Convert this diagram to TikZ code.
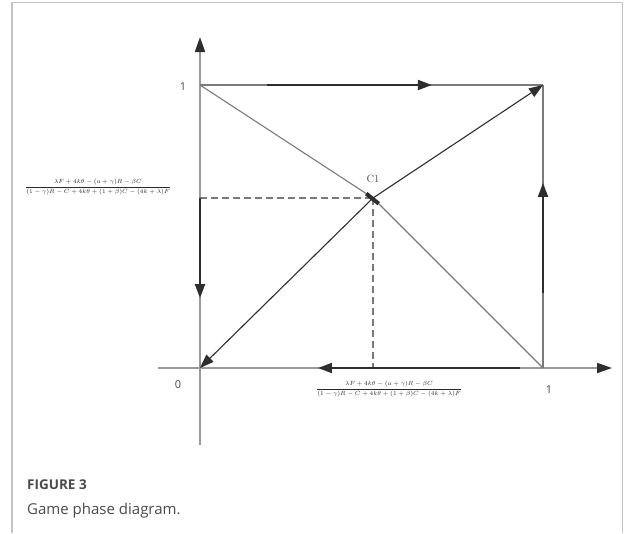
\documentclass[tikz,border=0pt]{standalone}
\usepackage{fontspec}
\newfontfamily\capfont{Open Sans}
\usetikzlibrary{arrows.meta,calc}
\definecolor{axisgray}{HTML}{9A9A9A}
\definecolor{linegray}{HTML}{7A7A7A}
\definecolor{darkline}{HTML}{2E2E2E}
\definecolor{framegray}{HTML}{C4C4C4}
\definecolor{txtgray}{HTML}{4A4A4A}
\definecolor{fracgray}{HTML}{2A2A2A}
\tikzset{
  axis/.style={draw=axisgray, line width=1.8pt, -{Triangle[length=15pt,width=10pt,color=darkline]}},
  edge/.style={draw=linegray, line width=1.4pt},
  diag/.style={draw=linegray, line width=1.1pt},
  flow/.style={draw=darkline, line width=2pt, -{Triangle[length=14pt,width=10pt]}},
  diagflow/.style={draw=darkline, line width=1.1pt, -{Triangle[length=14pt,width=10pt]}},
  guide/.style={draw=linegray, line width=1.2pt, dash pattern=on 7pt off 4pt},
  numlab/.style={font=\capfont\fontsize{11}{13}\selectfont, text=txtgray, inner sep=0pt},
  fraclab/.style={font=\fontsize{5.9}{7}\selectfont, text=fracgray, inner sep=0pt},
  frame/.style={draw=framegray, line width=1.5pt}
}
\begin{document}
\begin{tikzpicture}[x=1pt,y=-1pt]
\useasboundingbox (0,0) rectangle (624,533);
% frame
\draw[frame] (12,533) -- (12,2.5) -- (622.5,2.5) -- (622.5,533);
% key points
\coordinate (O) at (200,368);
\coordinate (A) at (543,368);
\coordinate (B) at (200,85);
\coordinate (D) at (543,85);
\coordinate (C) at (373,198);
\coordinate (xs) at (158,368);
\coordinate (xe) at (612,368);
\coordinate (ys) at (200,445);
\coordinate (ye) at (200,37);
\coordinate (Cx) at (373,368);
% axes
\draw[axis] (xs) -- (xe);
\draw[axis] (ys) -- (ye);
% square edges
\draw[edge] (B) -- (D);
\draw[edge] (D) -- (A);
% diagonals
\draw[diag] (B) -- (C) -- (A);
\draw[diagflow] (C) -- (D);
\draw[diagflow] (C) -- (O);
% dashed guides
\draw[guide] (B |- C) -- (C);
\draw[guide] (C) -- (Cx);
% flow arrows on edges
\draw[flow] ($(B)!0.195!(D)$) -- ($(B)!0.676!(D)$);
\draw[flow] ($(A)!0.265!(D)$) -- ($(A)!0.654!(D)$);
\draw[flow] ($(A)!0.067!(O)$) -- ($(A)!0.656!(O)$);
\draw[flow] ($(B)!0.40!(O)$) -- ($(B)!0.753!(O)$);
% C1 marker
\draw[draw=darkline, line width=4pt] ($(C)!8pt!(B)$) -- ($(C)!8pt!(A)$);
% labels
\node[font=\fontsize{10.5}{12}\selectfont, text=txtgray] (c1) at (373,179) {C1};
\node[numlab] (one1) at (183,87) {1};
\node[numlab] (zero) at (178,385) {0};
\node[numlab] (one2) at (549,390) {1};
\node[fraclab] (fy) at (98,187) {$\displaystyle\frac{\lambda F+4k\theta-(a+\gamma)R-\beta C}{(1-\gamma)R-C+4k\theta+(1+\beta)C-(4k+\lambda)F}$};
\node[fraclab] (fx) at (389,389) {$\displaystyle\frac{\lambda F+4k\theta-(a+\gamma)R-\beta C}{(1-\gamma)R-C+4k\theta+(1+\beta)C-(4k+\lambda)F}$};
% caption
\node[anchor=base west, inner sep=0pt, font=\capfont\bfseries\fontsize{13.5}{16}\selectfont, text=txtgray] (fig) at (27,489) {FIGURE 3};
\node[anchor=base west, inner sep=0pt, font=\capfont\fontsize{15}{18}\selectfont, text=txtgray] (cap) at (27,514) {Game phase diagram.};
\end{tikzpicture}
\end{document}
